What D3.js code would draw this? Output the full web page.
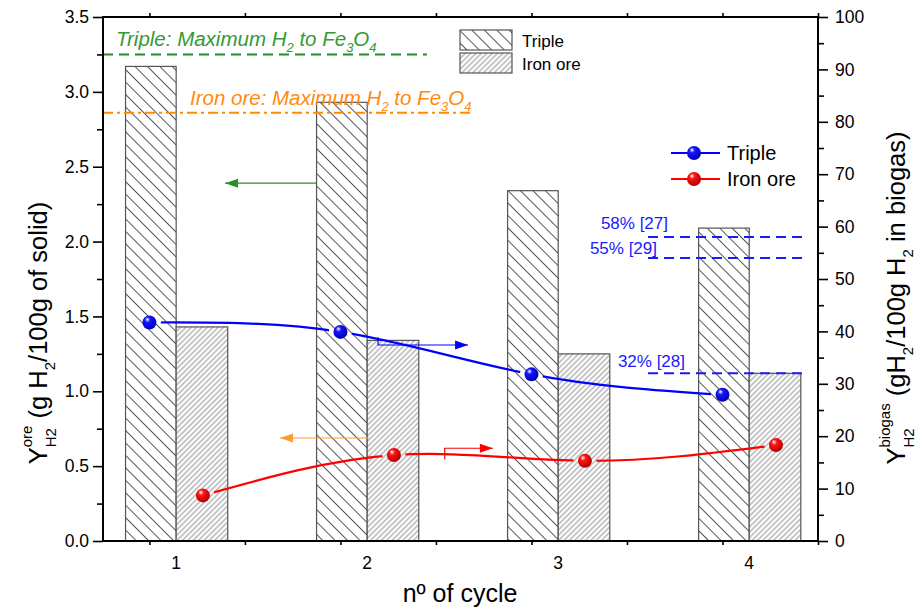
<!DOCTYPE html>
<html><head><meta charset="utf-8">
<script src="https://cdn.jsdelivr.net/npm/d3@7"></script>
<style>body{margin:0;background:#fff} svg{display:block} text{font-family:"Liberation Sans",Arial,sans-serif;white-space:pre}</style>
</head><body><svg id="c" width="918" height="607"></svg>
<script>
// ---------------- data ----------------
const cycles = [1, 2, 3, 4];
const cycleLabels = ["1", "2", "3", "4"];
const tripleOre = [3.17, 2.93, 2.34, 2.09];      // bars, left axis
const ironOre = [1.43, 1.34, 1.25, 1.12];        // bars, left axis
const tripleBiogas = [41.7, 39.9, 31.8, 27.9];   // points, right axis
const ironBiogas = [8.7, 16.4, 15.3, 18.3];      // points, right axis
const leftTicks = [0, 0.5, 1, 1.5, 2, 2.5, 3, 3.5];
const leftMinor = [0.25, 0.75, 1.25, 1.75, 2.25, 2.75, 3.25];
const rightTicks = [0, 10, 20, 30, 40, 50, 60, 70, 80, 90, 100];
const rightMinor = [5, 15, 25, 35, 45, 55, 65, 75, 85, 95];
const xMinor = [1, 1.5, 2, 2.5, 3, 3.5, 4, 4.5];
const maxTriple = 3.25;   // Triple: maximum H2 to Fe3O4 (left axis)
const maxIron = 2.86;     // Iron ore: maximum H2 to Fe3O4 (left axis)
const litValues = [58, 54, 32];
const litLabels = ["58% [27]", "55% [29]", "32% [28]"];

// ---------------- layout ----------------
const L = 103, R = 818, T = 17, B = 541;
const svg = d3.select("#c");
const x = d3.scaleLinear().domain([0.757, 4.5]).range([L, R]);
const yL = d3.scaleLinear().domain([0, 3.5]).range([B, T]);
const yR = d3.scaleLinear().domain([0, 100]).range([B, T]);
const barA = -0.125, barM = 0.14, barB = 0.41, ironPtOff = 0.28;

const defs = svg.append("defs");
function hatch(id, s, rot, col, w) {
  const p = defs.append("pattern").attr("id", id).attr("patternUnits", "userSpaceOnUse")
    .attr("width", s).attr("height", s).attr("patternTransform", `rotate(${rot})`);
  p.append("rect").attr("width", s).attr("height", s).attr("fill", "#fff");
  p.append("line").attr("x1", s / 2).attr("y1", -1).attr("x2", s / 2).attr("y2", s + 1)
    .attr("stroke", col).attr("stroke-width", w);
}
hatch("hTriple", 8.8, -45, "#3a3a3a", 0.85);
hatch("hIron", 3.8, 45, "#6a6a6a", 0.75);

function sphere(id, c, dark) {
  const g = defs.append("radialGradient").attr("id", id).attr("cx", "40%").attr("cy", "35%").attr("r", "65%").attr("fx", "35%").attr("fy", "28%");
  g.append("stop").attr("offset", "0%").attr("stop-color", "#ffffff");
  g.append("stop").attr("offset", "30%").attr("stop-color", c);
  g.append("stop").attr("offset", "100%").attr("stop-color", dark);
}
sphere("gBlue", "#1515ff", "#0000b0");
sphere("gRed", "#ff1515", "#b00000");

// ---------------- bars ----------------
const bars = svg.append("g");
bars.selectAll("rect.t").data(cycles).join("rect")
  .attr("x", (d) => x(d + barA)).attr("width", (d) => x(d + barM) - x(d + barA))
  .attr("y", (d, i) => yL(tripleOre[i])).attr("height", (d, i) => yL(0) - yL(tripleOre[i]))
  .attr("fill", "url(#hTriple)").attr("stroke", "#555").attr("stroke-width", 1.2);
bars.selectAll("rect.i").data(cycles).join("rect")
  .attr("x", (d) => x(d + barM)).attr("width", (d) => x(d + barB) - x(d + barM))
  .attr("y", (d, i) => yL(ironOre[i])).attr("height", (d, i) => yL(0) - yL(ironOre[i]))
  .attr("fill", "url(#hIron)").attr("stroke", "#555").attr("stroke-width", 1.2);

// ---------------- reference lines ----------------
svg.append("line").attr("x1", L).attr("x2", 427).attr("y1", yL(maxTriple)).attr("y2", yL(maxTriple))
  .attr("stroke", "#1f8f1f").attr("stroke-width", 2).attr("stroke-dasharray", "10,6");
svg.append("line").attr("x1", L).attr("x2", 473).attr("y1", yL(maxIron)).attr("y2", yL(maxIron))
  .attr("stroke", "#ff8c00").attr("stroke-width", 2).attr("stroke-dasharray", "10,4,3,4");
litValues.forEach((v) => {
  svg.append("line").attr("x1", 648).attr("x2", 807).attr("y1", yR(v)).attr("y2", yR(v))
    .attr("stroke", "#1a1aff").attr("stroke-width", 2).attr("stroke-dasharray", "10,6");
});
const litPos = [[668, 229], [657, 254], [685, 367]];
litLabels.forEach((t, i) => {
  svg.append("text").attr("x", litPos[i][0]).attr("y", litPos[i][1]).attr("text-anchor", "end")
    .attr("font-size", 17).attr("fill", "#1a1aff").text(t);
});

// ---------------- rich text helper ----------------
function rich(g, pieces, o) {
  const grp = g.append("g");
  let cx = 0, stackX = 0;
  pieces.forEach((p) => {
    const x0 = p.stack ? stackX : cx;
    const t = grp.append("text").attr("x", x0).attr("y", p.dy || 0).attr("font-size", p.size)
      .attr("fill", o.fill || "#000").attr("font-style", o.italic ? "italic" : null).text(p.t.replace(/ /g, "\u00a0"));
    const w = t.node().getComputedTextLength();
    if (p.stack) cx = Math.max(cx, stackX + w);
    else { stackX = x0; cx = x0 + w; }
  });
  return { grp, width: cx };
}

// annotations text
{
  const g = svg.append("g").attr("transform", "translate(116,46)");
  rich(g, [{ t: "Triple: Maximum H", size: 20.5 }, { t: "2", size: 13, dy: 6 }, { t: " to Fe", size: 20.5 },
    { t: "3", size: 13, dy: 6 }, { t: "O", size: 20.5 }, { t: "4", size: 13, dy: 6 }], { fill: "#349a34", italic: true });
  const g2 = svg.append("g").attr("transform", "translate(190,105)");
  rich(g2, [{ t: "Iron ore: Maximum H", size: 20.5 }, { t: "2", size: 13, dy: 6 }, { t: " to Fe", size: 20.5 },
    { t: "3", size: 13, dy: 6 }, { t: "O", size: 20.5 }, { t: "4", size: 13, dy: 6 }], { fill: "#ff8a10", italic: true });
}

// ---------------- curves ----------------
const ptsT = cycles.map((c, i) => [x(c), yR(tripleBiogas[i])]);
const ptsI = cycles.map((c, i) => [x(c + ironPtOff), yR(ironBiogas[i])]);
const mask = defs.append("mask").attr("id", "gap").attr("maskUnits", "userSpaceOnUse")
  .attr("x", 0).attr("y", 0).attr("width", 918).attr("height", 607);
mask.append("rect").attr("width", 918).attr("height", 607).attr("fill", "#fff");
ptsT.concat(ptsI).forEach((p) => mask.append("circle").attr("cx", p[0]).attr("cy", p[1]).attr("r", 11.5).attr("fill", "#000"));
const line = d3.line().curve(d3.curveNatural);
svg.append("path").attr("d", line(ptsT)).attr("fill", "none").attr("stroke", "#0000ff").attr("stroke-width", 2.2).attr("mask", "url(#gap)");
svg.append("path").attr("d", line(ptsI)).attr("fill", "none").attr("stroke", "#ff0000").attr("stroke-width", 2.2).attr("mask", "url(#gap)");
svg.selectAll("circle.t").data(ptsT).join("circle").attr("cx", (d) => d[0]).attr("cy", (d) => d[1]).attr("r", 7).attr("fill", "url(#gBlue)");
svg.selectAll("circle.i").data(ptsI).join("circle").attr("cx", (d) => d[0]).attr("cy", (d) => d[1]).attr("r", 7).attr("fill", "url(#gRed)");

// ---------------- arrows (data coords) ----------------
function arrow(pts, dir, col) {
  const p = pts.map((d) => [x(d[0]), d[2] === "R" ? yR(d[1]) : yL(d[1])]);
  svg.append("path").attr("d", d3.line()(p)).attr("fill", "none").attr("stroke", col).attr("stroke-width", 1.2);
  const tip = p[p.length - 1];
  const s = dir === "left" ? 1 : -1;
  svg.append("path").attr("d", `M${tip[0]},${tip[1]} L${tip[0] + s * 13},${tip[1] - 4.5} L${tip[0] + s * 13},${tip[1] + 4.5}Z`).attr("fill", col);
}
arrow([[1.872, 2.39, "L"], [1.396, 2.39, "L"]], "left", "#2a8f2a");
arrow([[2.15, 0.688, "L"], [1.684, 0.688, "L"]], "left", "#ff9a30");
arrow([[2.546, 15.6, "R"], [2.546, 17.7, "R"], [2.798, 17.7, "R"]], "right", "#ff0000");
arrow([[2.197, 38.9, "R"], [2.197, 37.4, "R"], [2.668, 37.4, "R"]], "right", "#0000ff");

// ---------------- axes ----------------
svg.append("g").attr("transform", `translate(${L},0)`)
  .call(d3.axisLeft(yL).tickValues(leftTicks).tickSize(10).tickPadding(4).tickFormat(d3.format(".1f")));
svg.append("g").attr("transform", `translate(${L},0)`).call(d3.axisLeft(yL).tickValues(leftMinor).tickSize(6).tickFormat(""));
svg.append("g").attr("transform", `translate(${R},0)`)
  .call(d3.axisRight(yR).tickValues(rightTicks).tickSize(10).tickPadding(7));
svg.append("g").attr("transform", `translate(${R},0)`).call(d3.axisRight(yR).tickValues(rightMinor).tickSize(6).tickFormat(""));
svg.append("g").attr("transform", `translate(0,${B})`).call(d3.axisBottom(x).tickValues(xMinor).tickSize(4).tickFormat(""));
svg.append("g").attr("transform", `translate(0,${T})`).call(d3.axisTop(x).tickValues(xMinor).tickSize(4).tickFormat(""));
svg.selectAll(".domain").remove();
svg.selectAll(".tick line").attr("stroke", "#000").attr("stroke-width", 1.6);
svg.selectAll(".tick text").attr("font-size", 17.5).attr("font-family", "Liberation Sans, Arial, sans-serif").attr("fill", "#000");
// frame
svg.append("rect").attr("x", L).attr("y", T).attr("width", R - L).attr("height", B - T)
  .attr("fill", "none").attr("stroke", "#000").attr("stroke-width", 2);
// category labels
svg.selectAll("text.cat").data(cycles).join("text").attr("x", (d) => x(d + barM)).attr("y", 569)
  .attr("text-anchor", "middle").attr("font-size", 17.5).text((d, i) => cycleLabels[i]);
svg.append("text").attr("x", 460).attr("y", 602).attr("text-anchor", "middle").attr("font-size", 25).text("nº of cycle");

// axis titles
{
  const g = svg.append("g").attr("transform", "translate(47,333) rotate(-90)");
  const r = rich(g, [{ t: "Y", size: 25.5 }, { t: "ore", size: 15, dy: -15 }, { t: "H2", size: 15, dy: 9, stack: true },
    { t: " (g H", size: 25.5 }, { t: "2", size: 15, dy: 8 }, { t: "/100g of solid)", size: 25.5 }], {});
  r.grp.attr("transform", `translate(${-r.width / 2},0)`);
  const g2 = svg.append("g").attr("transform", "translate(905,298) rotate(-90)");
  const r2 = rich(g2, [{ t: "Y", size: 25.5 }, { t: "biogas", size: 15, dy: -15 }, { t: "H2", size: 15, dy: 9, stack: true },
    { t: " (gH", size: 25.5 }, { t: "2", size: 15, dy: 8 }, { t: "/100g H", size: 25.5 }, { t: "2", size: 15, dy: 8 },
    { t: " in biogas)", size: 25.5 }], {});
  r2.grp.attr("transform", `translate(${-r2.width / 2},0)`);
}

// ---------------- legends ----------------
svg.append("rect").attr("x", 460).attr("y", 30).attr("width", 52).attr("height", 20).attr("fill", "url(#hTriple)").attr("stroke", "#555").attr("stroke-width", 1.2);
svg.append("rect").attr("x", 460).attr("y", 53).attr("width", 52).attr("height", 20).attr("fill", "url(#hIron)").attr("stroke", "#555").attr("stroke-width", 1.2);
svg.append("text").attr("x", 522).attr("y", 47).attr("font-size", 17).text("Triple");
svg.append("text").attr("x", 522).attr("y", 70).attr("font-size", 17).text("Iron ore");
[[153, "#0000ff", "gBlue", "Triple"], [179, "#ff0000", "gRed", "Iron ore"]].forEach((d) => {
  svg.append("line").attr("x1", 671).attr("x2", 720).attr("y1", d[0]).attr("y2", d[0]).attr("stroke", d[1]).attr("stroke-width", 2.2);
  svg.append("circle").attr("cx", 694).attr("cy", d[0]).attr("r", 7).attr("fill", `url(#${d[2]})`);
  svg.append("text").attr("x", 727).attr("y", d[0] + 7).attr("font-size", 20).text(d[3]);
});
</script></body></html>
